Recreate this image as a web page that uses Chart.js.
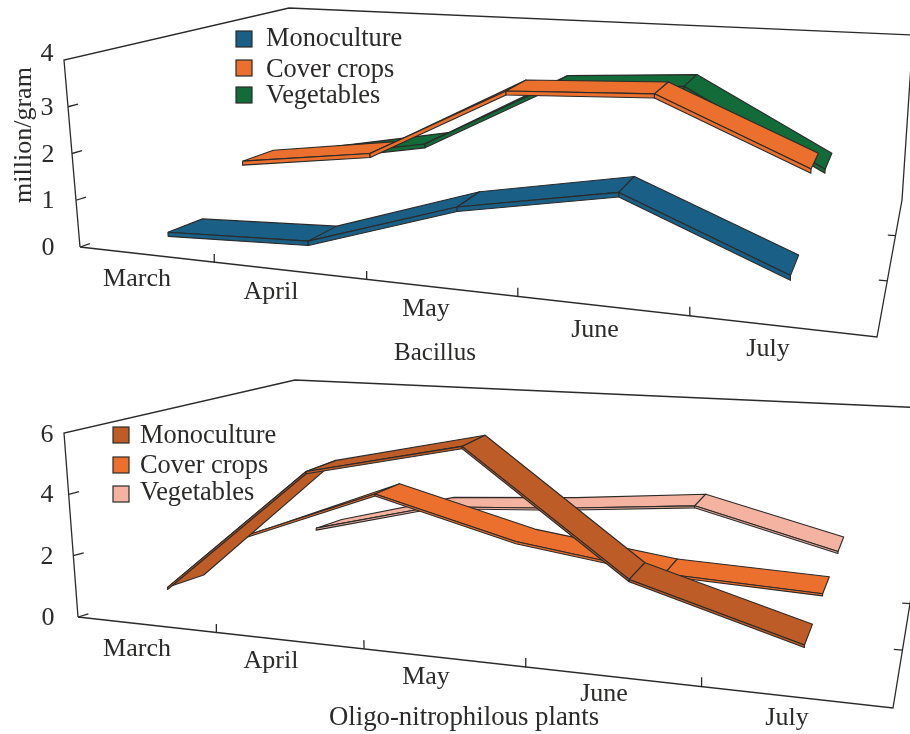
<!DOCTYPE html>
<html>
<head>
<meta charset="utf-8">
<title>Bacillus and Oligo-nitrophilous plants</title>
<script src="https://cdn.jsdelivr.net/npm/chart.js@4/dist/chart.umd.min.js"></script>
<style>
  html, body { margin: 0; padding: 0; background: #fff; }
  canvas { display: block; }
</style>
</head>
<body>
<canvas id="chartBacillus" width="910" height="367"></canvas>
<canvas id="chartOligo" width="910" height="367"></canvas>
<script>
// values
var months = ['March', 'April', 'May', 'June', 'July'];
var seriesNames = ['Monoculture', 'Cover crops', 'Vegetables'];

var bacillusMono = [0.31, 0.43, 1.43, 2.01, 0.72];
var bacillusCover = [1.24, 1.63, 3.21, 3.35, 1.99];
var bacillusVeg = [0.8, 1.26, 2.77, 2.94, 1.22];
var bacillusTicks = [0, 1, 2, 3, 4];

var oligoMono = [0.97, 5.08, 6.2, 2.57, 1.13];
var oligoCover = [1.8, 3.5, 2.24, 1.54, 1.28];
var oligoVeg = [1.26, 2.23, 2.41, 2.74, 1.4];
var oligoTicks = [0, 2, 4, 6];

var INK = '#2b2a29';
var FONT = '"Liberation Serif", serif';

// the walls of each 3D box, on the canvas
var boxBacillus = {
  floorFrontL: [80, 247], floorFrontR: [877, 337], floorBackL: [300, 172], floorBackR: [902, 200],
  topFrontL: [64, 60], topFrontR: [886, 117], topBackL: [289, 8], topBackR: [913, 35]
};
var boxOligo = {
  floorFrontL: [78, 250], floorFrontR: [893, 341], floorBackL: [309, 180], floorBackR: [916, 200],
  topFrontL: [64, 66], topFrontR: [902, 124], topBackL: [295, 13], topBackR: [927, 41]
};

function lerp(a, b, t) { return a + (b - a) * t; }

// month position 0..5, value 0..max, depth 0..1 -> canvas point
function project(box, max, m, v, d) {
  var t = m / 5;
  var u = t / (t + 1.18 * (1 - t)); // perspective along the month axis
  var h = v / max;
  function corner(i) {
    var floor = lerp(lerp(box.floorFrontL[i], box.floorFrontR[i], u), lerp(box.floorBackL[i], box.floorBackR[i], u), d);
    var top = lerp(lerp(box.topFrontL[i], box.topFrontR[i], u), lerp(box.topBackL[i], box.topBackR[i], u), d);
    return lerp(floor, top, h);
  }
  return { x: corner(0), y: corner(1) };
}

function lineSet(points) {
  return {
    data: points, showLine: true, pointRadius: 0, fill: false,
    borderColor: INK, borderWidth: 1.3, tension: 0
  };
}

function faceSet(points, color) {
  return {
    data: points.concat([points[0]]), showLine: true, pointRadius: 0, fill: 'shape',
    backgroundColor: color, borderColor: INK, borderWidth: 1.1, tension: 0, borderJoinStyle: 'round'
  };
}

function buildDatasets(cfg) {
  var box = cfg.box, max = cfg.max;
  function p(m, v, d) { return project(box, max, m, v, d); }
  var sets = [];

  // frame
  sets.push(lineSet([p(0, 0, 0), p(0, max, 0), p(0, max, 1), p(5, max, 1), p(5, 0, 1), p(5, 0, 0), p(0, 0, 0)]));

  // ticks
  cfg.ticks.forEach(function (t) {
    if (t < max) sets.push(lineSet([p(0, t, 0), p(0, t, 0.045)]));
  });
  cfg.monthTickPos.forEach(function (m) {
    sets.push(lineSet([p(m, 0, 0), p(m, cfg.monthTick, 0)]));
  });
  [0.41, 0.74].forEach(function (d) {
    sets.push(lineSet([p(5, 0, d), p(4.95, 0, d)]));
  });

  // ribbons, back series first
  for (var s = cfg.series.length - 1; s >= 0; s--) {
    var vals = cfg.series[s], d0 = cfg.depths[s][0], d1 = cfg.depths[s][1], col = cfg.colors[s];
    var i = 0;
    while (i < vals.length - 1) {
      // months listed in noBend show no cross line, so they share one face
      var j = i + 1;
      while (j < vals.length - 1 && cfg.noBend[s].indexOf(j) >= 0) j++;
      var frontTop = [], backTop = [], frontLow = [];
      for (var k = i; k <= j; k++) {
        frontTop.push(p(k + 0.5, vals[k], d0));
        backTop.unshift(p(k + 0.5, vals[k], d1));
        frontLow.unshift(p(k + 0.5, vals[k] - cfg.thick, d0));
      }
      sets.push(faceSet(frontTop.concat(backTop), col));
      sets.push(faceSet(frontTop.concat(frontLow), col));
      i = j;
    }
  }
  // chart.js paints the first dataset last
  return sets.reverse();
}

var textPlugin = {
  id: 'panelText',
  afterDraw: function (chart, args, opts) {
    var ctx = chart.ctx;
    ctx.save();
    ctx.fillStyle = INK;
    ctx.font = '26px ' + FONT;
    ctx.textAlign = 'center';
    ctx.textBaseline = 'middle';
    months.forEach(function (name, i) {
      ctx.fillText(name, opts.monthPos[i][0], opts.monthPos[i][1]);
    });
    opts.tickValues.forEach(function (t, i) {
      ctx.fillText(String(t), opts.tickPos[i][0], opts.tickPos[i][1]);
    });
    if (opts.axisTitle) {
      ctx.save();
      ctx.translate(opts.axisPos[0], opts.axisPos[1]);
      ctx.rotate(-Math.PI / 2);
      ctx.fillText(opts.axisTitle, 0, 0);
      ctx.restore();
    }
    ctx.font = opts.titleSize + 'px ' + FONT;
    ctx.fillText(opts.title, opts.titlePos[0], opts.titlePos[1]);
    ctx.font = '26.4px ' + FONT;
    seriesNames.forEach(function (name, i) {
      var y = opts.legendY[i];
      ctx.fillStyle = opts.colors[i];
      ctx.fillRect(opts.legendX, y - 8, 16, 16);
      ctx.strokeStyle = INK;
      ctx.lineWidth = 1.2;
      ctx.strokeRect(opts.legendX, y - 8, 16, 16);
      ctx.fillStyle = INK;
      ctx.textAlign = 'left';
      ctx.fillText(name, opts.legendTextX, opts.legendTextY[i]);
    });
    ctx.restore();
  }
};

function makeChart(id, cfg, text) {
  var canvas = document.getElementById(id);
  text.colors = cfg.colors;
  text.tickValues = cfg.ticks;
  return new Chart(canvas.getContext('2d'), {
    type: 'scatter',
    data: { datasets: buildDatasets(cfg) },
    plugins: [textPlugin],
    options: {
      responsive: false,
      animation: false,
      layout: { padding: 0 },
      scales: {
        x: { type: 'linear', min: 0, max: canvas.width, display: false },
        y: { type: 'linear', min: 0, max: canvas.height, reverse: true, display: false }
      },
      plugins: { legend: { display: false }, tooltip: { enabled: false }, panelText: text }
    }
  });
}

var chartBacillus = makeChart('chartBacillus', {
  box: boxBacillus, max: 4, ticks: bacillusTicks, thick: 0.09, monthTick: 0.17,
  monthTickPos: [0.968, 1.995, 2.95, 3.967],
  series: [bacillusMono, bacillusCover, bacillusVeg],
  depths: [[0.1, 0.27], [0.48, 0.63], [0.8, 0.94]],
  noBend: [[], [], []],
  colors: ['#1a5f85', '#ec702d', '#136b3a']
}, {
  monthPos: [[137, 279], [271, 292], [426, 309], [595, 330], [768, 349]],
  title: 'Bacillus', titleSize: 25, titlePos: [435, 353],
  tickPos: [[48, 248], [48, 201], [48, 155], [47, 108], [47, 54]],
  axisTitle: 'million/gram', axisPos: [24, 135],
  legendX: 236, legendTextX: 266, legendY: [39, 68, 95], legendTextY: [39, 70, 96]
});

var chartOligo = makeChart('chartOligo', {
  box: boxOligo, max: 6, ticks: oligoTicks, thick: 0.07, monthTick: 0.27,
  monthTickPos: [0.975, 1.948, 2.95, 3.967],
  series: [oligoMono, oligoCover, oligoVeg],
  depths: [[0.1, 0.27], [0.48, 0.62], [0.8, 0.92]],
  noBend: [[], [2], [1, 2]],
  colors: ['#bd5c27', '#ec702d', '#f4b3a0']
}, {
  monthPos: [[137, 282], [271, 294], [426, 310], [604, 327], [787, 351]],
  title: 'Oligo-nitrophilous plants', titleSize: 26.8, titlePos: [464, 351],
  tickPos: [[48, 251], [47, 190], [47, 128], [47, 68]],
  legendX: 113, legendTextX: 140, legendY: [68, 98, 127], legendTextY: [69, 99, 126]
});
</script>
</body>
</html>
